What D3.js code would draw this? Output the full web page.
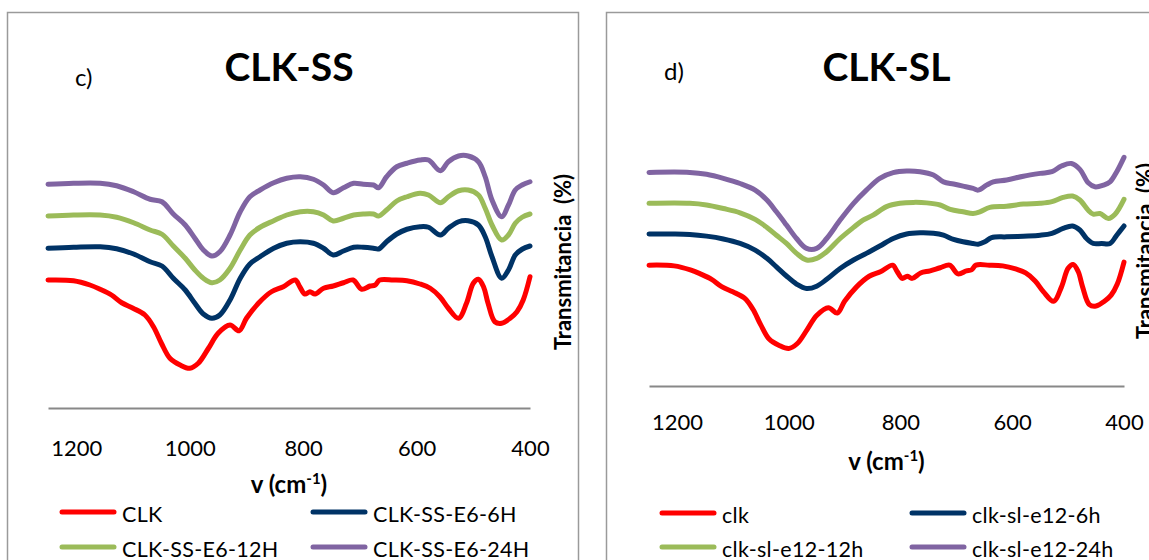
<!DOCTYPE html>
<html>
<head>
<meta charset="utf-8">
<script src="https://cdn.jsdelivr.net/npm/d3@7"></script>
<style>
  body { margin: 0; background: #fff; }
  text { font-family: Lato, "Open Sans", sans-serif; }
</style>
</head>
<body>
<svg id="chart" width="1149" height="560"></svg>
<script>
// wavenumber ticks (cm-1), axis runs 1250 -> 400
var xTicks = [1200, 1000, 800, 600, 400]

// CLK reference spectrum (same in both panels): [wavenumber, transmittance]
var clk = [[1250,51.2],[1205,50.9],[1176,49.2],[1158,47.5],[1138,45.2],[1120,42.1],[1100,39.9],[1079,37.2],[1064,32.5],[1050,25.9],
  [1035,19.9],[1017,17.2],[1000,15.9],[985,17.9],[967,23.9],[950,29.9],[929,33.2],[913,30.9],[900,35.9],[879,41.9],
  [856,46.5],[835,48.5],[814,51.2],[806,48.5],[797,45.6],[788,46.5],[779,45.6],[764,47.9],[747,48.8],[729,50.1],
  [712,51.2],[697,47.5],[682,48.8],[673,49.2],[665,51.2],[641,51.2],[617,50.9],[594,49.6],[576,47.9],[559,44.5],
  [544,39.9],[526,35.9],[512,41.9],[500,49.9],[491,51.5],[482,48.5],[474,41.9],[462,34.5],[450,33.9],[435,35.9],
  [423,38.5],[412,43.2],[400,52.5]]

// CLK-SS panel, common wavenumber grid
var wnSS = [1250,1205,1158,1129,1099,1070,1049,1029,1008,991,976,961,947,929,911,894,876,852,829,805,782,764,747,729,711,
  694,676,667,653,635,617,594,579,558,544,526,509,491,479,467,450,438,426,414,400]
var ss6h = [63.9,64.3,64.5,63.7,61.6,58.5,56.8,51.9,47.2,41.9,37.6,35.9,37.2,43.2,51.9,57.6,60.5,63.9,65.9,66.5,65.9,63.9,61.2,62.8,64.3,
  64.3,63.9,63.6,66.5,69.6,71.5,72.5,72.3,69.2,71.9,74.5,74.9,73.2,68.5,60.5,51.9,55.2,61.2,63.5,64.8]
var ss12h = [76.8,77.2,77.2,76.3,74.1,71.2,69.5,64.8,59.9,55.2,51.9,50.1,51.2,55.9,63.2,69.2,72.3,74.9,77.2,78.5,78.5,77.2,74.8,75.9,77.2,
  77.6,77.6,76.8,79.2,82.8,84.5,85.9,85.2,82.1,84.5,86.9,87.2,85.2,79.9,73.2,67.2,69.2,73.9,76.3,77.6]
var ss24h = [89.5,89.9,89.9,88.9,86.5,83.5,82.5,77.6,73.2,67.9,63.2,60.8,62.5,69.2,78.5,84.5,87.2,90.1,91.9,92.5,91.5,89.2,86.1,88.1,89.9,
  89.5,89.2,88.1,92.5,96.5,97.9,99.2,99.2,94.9,98.5,100.8,100.8,98.5,92.5,83.2,76.5,81.2,87.2,89.2,90.5]

// CLK-SL panel: [wavenumber, transmittance]
var sl6h = [[1250,64.4],[1207,64.4],[1177,64.2],[1147,63.5],[1117,62.3],[1087,60.4],[1060,57.6],[1039,54.1],[1022,50.5],[1004,46.6],
  [986,43.2],[968,41.3],[950,42.3],[932,45.2],[908,49.8],[884,53.4],[861,56.2],[837,59.3],[813,62.5],[789,64.4],
  [765,64.9],[741,64.7],[723,63.9],[705,62.1],[688,61.1],[670,60.4],[661,60.1],[649,61.1],[637,62.9],[610,63.2],
  [580,63.5],[550,63.9],[529,64.7],[509,66.8],[492,67.8],[479,66.1],[467,62.5],[455,60.4],[440,60.4],[425,60.4],
  [413,63.9],[400,67.8]]
var sl12h = [[1250,77.4],[1177,77.4],[1147,76.7],[1117,75.2],[1087,73.4],[1060,70.6],[1039,67.2],[1022,63.9],[1004,60.4],[986,56.2],
  [968,53.4],[950,54.1],[932,56.9],[908,62.5],[884,67.2],[867,70.3],[849,72.4],[825,76],[801,77.4],[777,77.8],
  [753,77.6],[729,76.7],[711,74.8],[688,73.8],[670,73.1],[658,73.8],[640,75.7],[610,76.2],[580,77.1],[550,77.4],
  [529,78.1],[509,79.9],[492,80.5],[479,78.8],[464,74.5],[455,72.8],[443,73.1],[428,71],[416,72.8],[400,79.1]]
var sl24h = [[1250,90.5],[1177,90.5],[1147,89.7],[1117,88],[1087,85.8],[1060,83],[1039,78.8],[1022,73.8],[1004,68.2],[986,62.5],
  [968,58.3],[950,58.3],[932,62.5],[908,70.3],[884,77.4],[861,83],[837,88],[813,90.4],[789,91.1],[765,90.8],
  [741,89.4],[723,86.5],[705,85.6],[688,84.7],[670,83.7],[661,83],[646,85.1],[634,86.5],[610,87.3],[580,88.9],
  [550,90.1],[529,90.8],[512,93.2],[494,94.3],[479,91.8],[464,86.1],[452,84.4],[437,85.1],[425,86.5],[413,90.8],
  [400,96.9]]

var ssNames = ["CLK", "CLK-SS-E6-6H", "CLK-SS-E6-12H", "CLK-SS-E6-24H"]
var slNames = ["clk", "clk-sl-e12-6h", "clk-sl-e12-12h", "clk-sl-e12-24h"]
var colors = ["#FF0000", "#003366", "#9BBB59", "#8064A2"]

var zip = (xs, ys) => xs.map((d, i) => [d, ys[i]])

var panels = [
  {
    frame: [7.5, 12.5], left: 48, right: 530, bottom: 408, top: 158,
    title: "CLK-SS", tag: "c)", tagX: 75, tagY: 86, titleY: 81, tickPad: 32,
    xTitleY: 493, yTitleX: 571, yTitleY: 262, legendY: [512, 547], legendX: [62, 313],
    names: ssNames,
    series: [clk, zip(wnSS, ss6h), zip(wnSS, ss12h), zip(wnSS, ss24h)]
  },
  {
    frame: [606.5, 12.5], left: 649, right: 1124, bottom: 386, top: 150,
    title: "CLK-SL", tag: "d)", tagX: 664, tagY: 80, titleY: 81, tickPad: 28,
    xTitleY: 470, yTitleX: 1153, yTitleY: 251, legendY: [513, 547], legendX: [662, 912],
    names: slNames,
    series: [clk, sl6h, sl12h, sl24h]
  }
]

var svg = d3.select("#chart")

panels.forEach(function(p){
  var g = svg.append("g")

  g.append("rect")
    .attr("x", p.frame[0]).attr("y", p.frame[1])
    .attr("width", 571).attr("height", 600)
    .attr("fill", "none").attr("stroke", "#9a9a9a").attr("stroke-width", 1.5)

  var x = d3.scaleLinear().domain([1250, 400]).range([p.left, p.right])
  var y = d3.scaleLinear().domain([0, 100]).range([p.bottom, p.top])
  var cx = (p.left + p.right) / 2

  var axis = g.append("g")
    .attr("transform", `translate(0,${p.bottom})`)
    .call(d3.axisBottom(x).tickValues(xTicks).tickSize(0).tickPadding(p.tickPad).tickFormat(d3.format("d")))
  axis.select(".domain").attr("stroke", "#888").attr("stroke-width", 2)
  axis.selectAll("text")
    .attr("font-size", 22).attr("fill", "#000")
    .style("font-family", "Lato, sans-serif")

  var line = d3.line()
    .x(d => x(d[0]))
    .y(d => y(d[1]))
    .curve(d3.curveCatmullRom.alpha(0.5))

  p.series.forEach(function(s, i){
    g.append("path")
      .datum(s)
      .attr("d", line)
      .attr("fill", "none")
      .attr("stroke", colors[i])
      .attr("stroke-width", 5)
      .attr("stroke-linejoin", "round")
      .attr("stroke-linecap", "round")
  })

  g.append("text")
    .attr("x", cx).attr("y", p.titleY)
    .attr("text-anchor", "middle")
    .attr("font-size", 39).attr("font-weight", "bold")
    .text(p.title)

  g.append("text")
    .attr("x", p.tagX).attr("y", p.tagY)
    .attr("font-size", 24)
    .text(p.tag)

  var xt = g.append("text")
    .attr("x", cx).attr("y", p.xTitleY)
    .attr("text-anchor", "middle")
    .attr("font-size", 24).attr("font-weight", "bold")
  xt.append("tspan").text("v (cm")
  xt.append("tspan").attr("dy", -9).attr("font-size", 15).text("-1")
  xt.append("tspan").attr("dy", 9).text(")")

  g.append("text")
    .attr("transform", `translate(${p.yTitleX},${p.yTitleY}) rotate(-90)`)
    .attr("text-anchor", "middle")
    .attr("font-size", 22).attr("font-weight", "bold")
    .style("white-space", "pre")
    .text("Transmitancia  (%)")

  p.names.forEach(function(n, i){
    var lx = p.legendX[i % 2]
    var ly = p.legendY[Math.floor(i / 2)]
    g.append("line")
      .attr("x1", lx).attr("x2", lx + 52)
      .attr("y1", ly).attr("y2", ly)
      .attr("stroke", colors[i]).attr("stroke-width", 5)
      .attr("stroke-linecap", "round")
    g.append("text")
      .attr("x", lx + 60).attr("y", ly + 10)
      .attr("font-size", 21.5)
      .attr("letter-spacing", 0.3)
      .text(n)
  })
})
</script>
</body>
</html>
